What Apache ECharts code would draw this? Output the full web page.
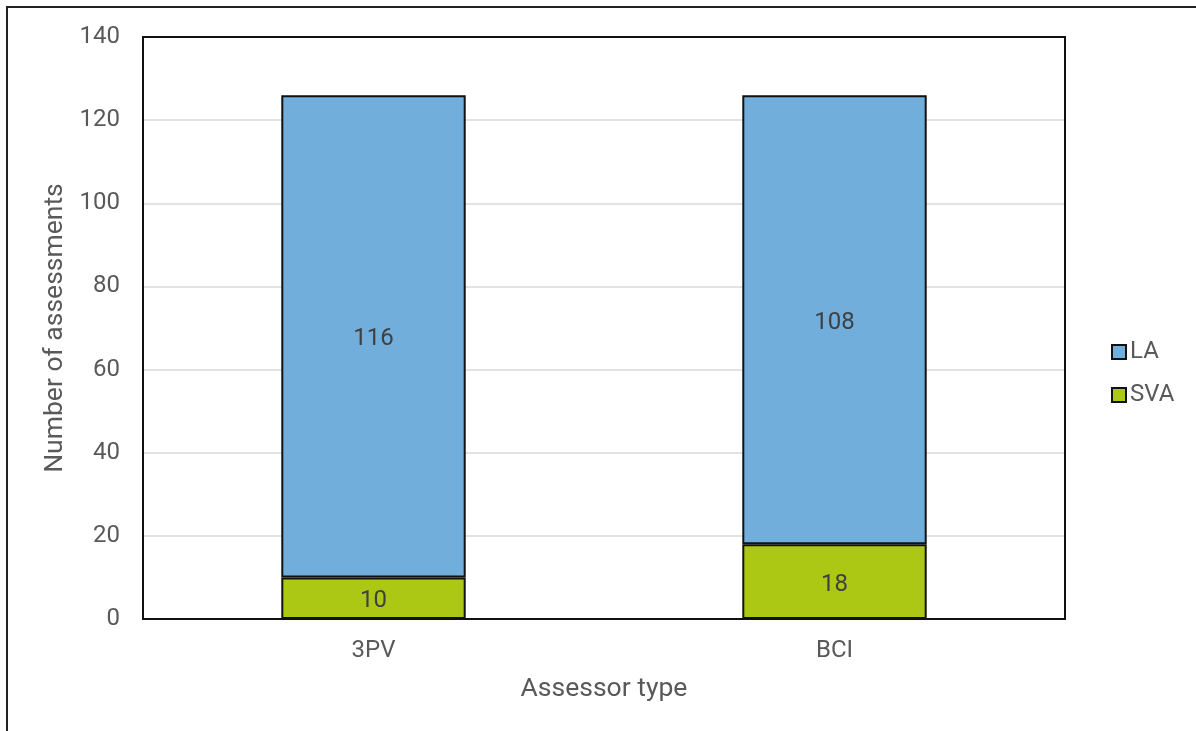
<!DOCTYPE html>
<html><head><meta charset="utf-8">
<script src="https://cdn.jsdelivr.net/npm/echarts@6/dist/echarts.min.js"></script>
<style>html,body{margin:0;padding:0;background:#fff}#c{width:1196px;height:731px}</style>
</head><body><div id="c"></div>
<script>
const categories = ['3PV', 'BCI'];
const svaValues = [10, 18];
const laValues = [116, 108];
const yTicks = { min: 0, max: 140, interval: 20 };

const chart = echarts.init(document.getElementById('c'), null, { renderer: 'canvas' });
const font = 'Roboto';
chart.setOption({
  animation: false,
  backgroundColor: '#fff',
  textStyle: { fontFamily: font },
  graphic: [
    { type: 'rect', shape: { x: 7, y: 7, width: 1300, height: 800 }, style: { fill: 'none', stroke: '#222', lineWidth: 2 }, silent: true, z: -1 },
    { type: 'rect', shape: { x: 143, y: 37, width: 922, height: 582 }, style: { fill: 'none', stroke: '#111', lineWidth: 2 }, silent: true, z: 10 }
  ],
  grid: { left: 143, top: 37, right: 131, bottom: 112, containLabel: false },
  legend: {
    orient: 'vertical', left: 1106, top: 335, itemWidth: 14, itemHeight: 14, itemGap: 19,
    icon: 'rect',
    textStyle: { fontSize: 24, color: '#595959', fontFamily: font, padding: [0, 0, 0, -1] },
    data: ['LA', 'SVA']
  },
  xAxis: {
    type: 'category', data: categories,
    name: 'Assessor type', nameLocation: 'middle', nameGap: 57,
    nameTextStyle: { fontSize: 26.5, color: '#595959', fontFamily: font },
    axisLine: { lineStyle: { color: '#111', width: 2 } },
    axisTick: { show: false },
    axisLabel: { fontSize: 24, color: '#595959', margin: 20, fontFamily: font }
  },
  yAxis: {
    type: 'value', min: yTicks.min, max: yTicks.max, interval: yTicks.interval,
    name: 'Number of assessments', nameLocation: 'middle', nameGap: 73,
    nameTextStyle: { fontSize: 26.5, color: '#595959', fontFamily: font },
    axisLine: { show: false }, axisTick: { show: false },
    axisLabel: { fontSize: 24, color: '#595959', margin: 23, fontFamily: font },
    splitLine: { lineStyle: { color: '#d9d9d9', width: 1.5 } }
  },
  series: [
    {
      name: 'SVA', type: 'bar', stack: 'a', data: svaValues, barWidth: '40%',
      itemStyle: { color: '#acc814', borderColor: '#111', borderWidth: 2 },
      label: { show: true, position: 'inside', offset: [0, 3], fontSize: 24, color: '#404040', fontFamily: font }
    },
    {
      name: 'LA', type: 'bar', stack: 'a', data: laValues, barWidth: '40%',
      itemStyle: { color: '#72aedb', borderColor: '#111', borderWidth: 2 },
      label: { show: true, position: 'inside', offset: [0, 3], fontSize: 24, color: '#404040', fontFamily: font }
    }
  ]
});
</script></body></html>
